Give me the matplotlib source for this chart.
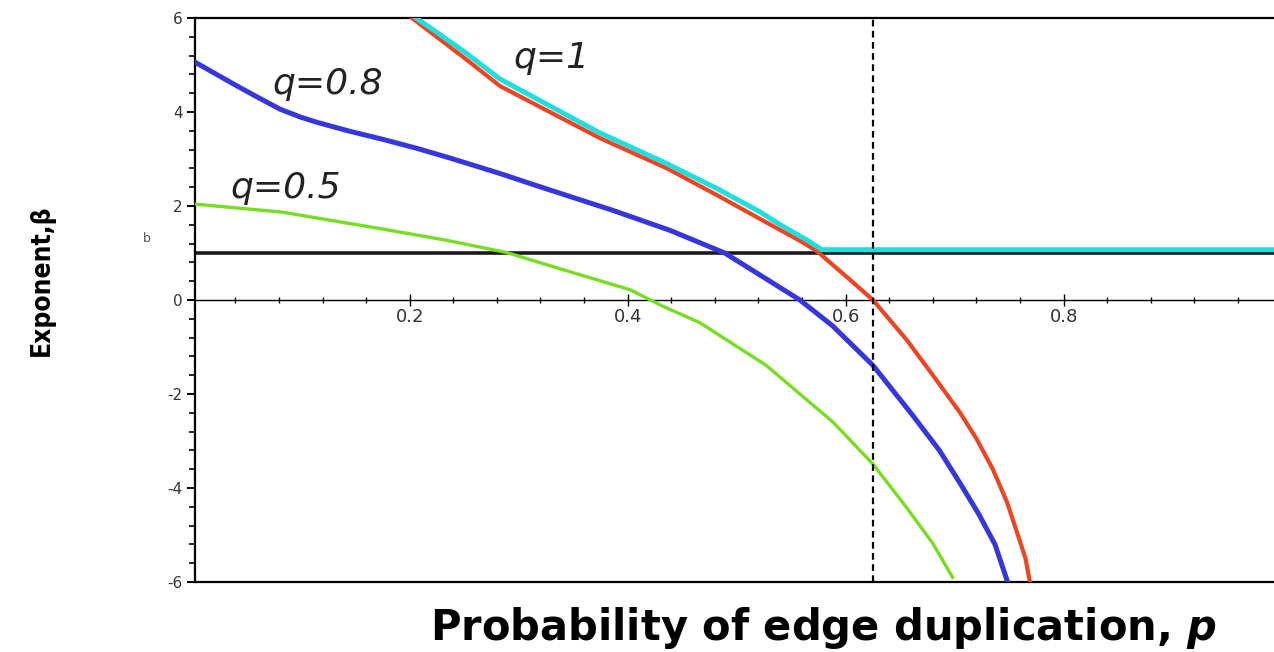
import numpy as np
import matplotlib.pyplot as plt
from matplotlib.ticker import MultipleLocator

# q = 0.8 (blue)
p_q08 = [0.003, 0.038, 0.06, 0.081, 0.1, 0.115, 0.145, 0.175, 0.206, 0.237, 0.283, 0.326, 0.386,
         0.439, 0.489, 0.527, 0.558, 0.588, 0.625, 0.661, 0.686, 0.705, 0.722, 0.737, 0.748]
b_q08 = [5.06, 4.6, 4.32, 4.06, 3.89, 3.78, 3.59, 3.42, 3.23, 3.02, 2.69, 2.36, 1.91,
         1.48, 1.0, 0.45, 0.0, -0.55, -1.39, -2.44, -3.2, -3.9, -4.55, -5.2, -5.96]

# q = 0.5 (green)
p_q05 = [0.003, 0.083, 0.175, 0.234, 0.289, 0.34, 0.402, 0.432, 0.466, 0.527,
         0.588, 0.625, 0.656, 0.68, 0.698]
b_q05 = [2.04, 1.87, 1.51, 1.27, 1.01, 0.65, 0.22, -0.13, -0.48, -1.39,
         -2.59, -3.49, -4.42, -5.18, -5.9]

# q = 1 (red)
p_q1 = [0.202, 0.249, 0.283, 0.374, 0.436, 0.482, 0.521, 0.558, 0.573, 0.604,
        0.625, 0.656, 0.68, 0.705, 0.72, 0.735, 0.748, 0.758, 0.765, 0.769]
b_q1 = [6.0, 5.17, 4.55, 3.45, 2.8, 2.23, 1.73, 1.26, 1.05, 0.43,
        0.0, -0.85, -1.6, -2.4, -2.95, -3.6, -4.3, -5.0, -5.5, -6.0]

# q = 1, bounded at beta = 1 (cyan)
p_q1c = [0.206, 0.249, 0.283, 0.374, 0.436, 0.482, 0.521, 0.54, 0.567, 0.578, 0.993]
b_q1c = [6.0, 5.3, 4.7, 3.56, 2.9, 2.37, 1.88, 1.6, 1.24, 1.07, 1.07]

beta_one = 1.0
p_crit = 0.625

fig = plt.figure(figsize=(12.74, 6.52), dpi=100)
ax = fig.add_axes([195 / 1274, 1 - 582 / 652, 1 - 195 / 1274, (582 - 18) / 652])

ax.axhline(beta_one, color="#1a1a1a", lw=2.6, zorder=2)
ax.axvline(p_crit, color="black", lw=1.6, ls=(0, (3, 2)), zorder=5)

ax.plot(p_q05, b_q05, color="#77dd22", lw=2.4, zorder=3)
ax.plot(p_q08, b_q08, color="#3636dd", lw=3.6, zorder=3)
ax.plot(p_q1, b_q1, color="#ee4422", lw=3.0, zorder=3)
ax.plot(p_q1c, b_q1c, color="#22dddd", lw=3.6, zorder=4)

ax.text(0.33, 5.14, "q=1", style="italic", fontsize=26, color="#222222", ha="center", va="center")
ax.text(0.125, 4.6, "q=0.8", style="italic", fontsize=26, color="#222222", ha="center", va="center")
ax.text(0.086, 2.39, "q=0.5", style="italic", fontsize=26, color="#222222", ha="center", va="center")

ax.set_xlim(0.003, 0.993)
ax.set_ylim(-6, 6)

# maple style: x axis through the origin, box around the rest
ax.spines["right"].set_visible(False)
ax.spines["bottom"].set_position(("data", 0))
ax.spines["bottom"].set_linewidth(1.0)
ax.spines["left"].set_linewidth(1.6)
ax.spines["top"].set_linewidth(1.6)
ax.axhline(-6, color="black", lw=1.6, clip_on=False)

ax.xaxis.set_minor_locator(MultipleLocator(0.04))
ax.yaxis.set_minor_locator(MultipleLocator(0.4))
ax.set_xticks([0.2, 0.4, 0.6, 0.8])
ax.set_xticklabels(["0.2", "0.4", "0.6", "0.8"])
ax.set_yticks(range(-6, 7, 2))
ax.set_yticklabels(["-6", "-4", "-2", "0", "2", "4", "6"])

ax.tick_params(axis="x", which="major", direction="inout", length=8, width=1.0,
               labelsize=13, labelcolor="#333333", pad=2)
ax.tick_params(axis="x", which="minor", direction="inout", length=4, width=1.0)
ax.tick_params(axis="y", which="major", direction="out", length=6, width=1.4,
               labelsize=11, labelcolor="#333333", pad=3)
ax.tick_params(axis="y", which="minor", direction="out", length=4, width=1.2)

fig.text(147 / 1274, 1 - 238 / 652, "b", fontsize=9, color="#555555", ha="center", va="center")

fig.text(42 / 1274, 1 - 280 / 652, "Exponent,β", rotation=90, fontsize=19,
         family="DejaVu Sans", stretch="condensed", weight="bold",
         ha="center", va="center")
fig.text(823 / 1274, 1 - 628 / 652, "Probability of edge duplication, $\\boldsymbol{p}$",
         fontsize=30, weight="bold", ha="center", va="center")

plt.savefig("out.png", dpi=100)
